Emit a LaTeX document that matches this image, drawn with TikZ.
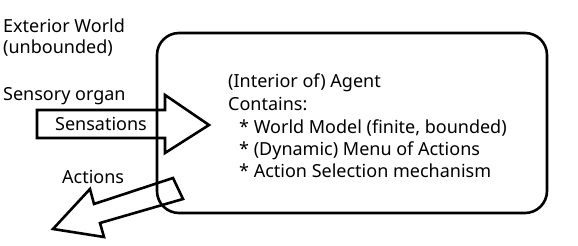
\documentclass[tikz,border=0pt]{standalone}
\usepackage{fontspec}
\setmainfont{Noto Sans}
\begin{document}
\begin{tikzpicture}[x=1pt,y=-1pt,
  lbl/.style={inner sep=0pt,anchor=base west,font=\fontsize{18}{22}\selectfont},
  shp/.style={draw=black,line width=2.6pt,line join=miter}]
\useasboundingbox (0,0) rectangle (578,246);
% agent box
\draw[shp,rounded corners=22pt] (157,33) rectangle (547,213);
% sensations arrow
\draw[shp] (37,110) -- (165,110) -- (165,95) -- (209,125) -- (165,153) -- (165,138) -- (37,138) -- cycle;
% actions arrow
\draw[shp] (173,178) -- (183,199) -- (100,223) -- (104,237) -- (53,229) -- (90,189) -- (94,204) -- cycle;
\node[lbl] (ext) at (3,33) {Exterior World};
\node[lbl] (unb) at (3,53) {(unbounded)};
\node[lbl] (sens) at (3,100) {Sensory organ};
\node[lbl] (sensat) at (55,130) {Sensations};
\node[lbl] (act) at (62,183) {Actions};
\node[lbl] (l1) at (228,88) {(Interior of) Agent};
\node[lbl] (l2) at (228,110) {Contains:};
\node[lbl] (l3) at (239,133) {* World Model (finite, bounded)};
\node[lbl] (l4) at (239,155) {* (Dynamic) Menu of Actions};
\node[lbl] (l5) at (239,177) {* Action Selection mechanism};
\end{tikzpicture}
\end{document}
